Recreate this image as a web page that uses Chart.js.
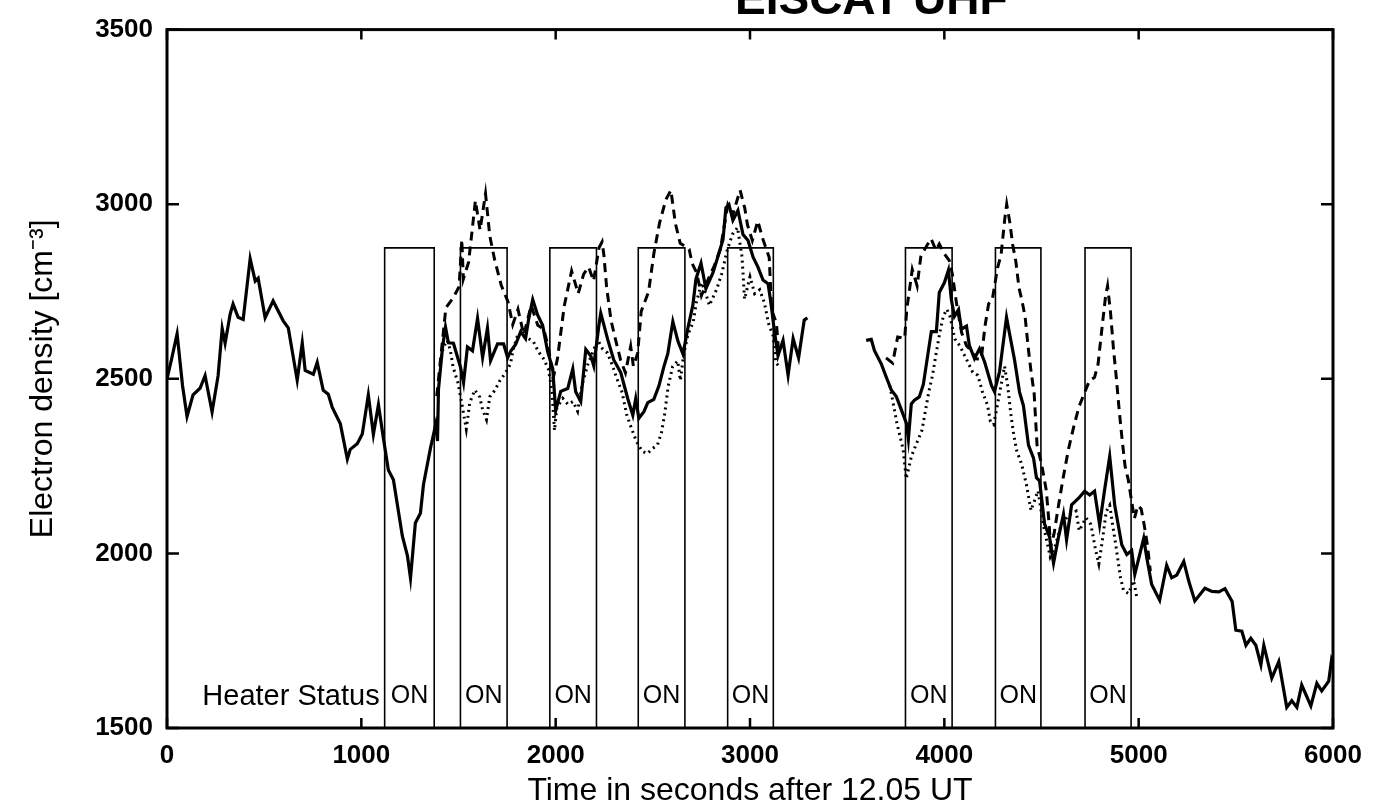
<!DOCTYPE html>
<html>
<head>
<meta charset="utf-8">
<script src="https://cdn.jsdelivr.net/npm/chart.js@4.4.1/dist/chart.umd.min.js"></script>
<style>
  html, body { margin: 0; padding: 0; background: #fff; }
  #wrap { width: 1376px; height: 811px; }
</style>
</head>
<body>
<div id="wrap"><canvas id="densityChart"></canvas></div>
<script>
// [time in s after 12.05 UT, electron density cm^-3]
const solidLine = [
    [0,2500],[25,2560],[52,2629],[80,2480],[103,2392],[134,2454],[170,2473],[196,2509],[232,2405],[263,2509],
    [284,2644],[299,2602],[325,2685],[340,2714],[366,2676],[392,2670],[428,2844],[454,2780],[469,2788],[505,2675],
    [546,2723],[598,2666],[624,2646],[670,2496],[696,2603],[711,2524],[753,2513],[773,2547],[804,2467],[830,2456],
    [850,2419],[892,2371],[928,2270],[943,2298],[979,2314],[1005,2342],[1036,2454],[1062,2341],[1088,2426],[1113,2332],
    [1139,2239],[1165,2211],[1211,2050],[1237,1994],[1253,1929],[1278,2087],[1304,2115],[1320,2198],[1356,2302],[1382,2367],
    [1392,2322],[1397,2470],[1418,2591],[1433,2648],[1448,2603],[1474,2602],[1510,2534],[1526,2489],[1546,2591],[1572,2580],
    [1598,2673],[1624,2561],[1649,2645],[1665,2552],[1701,2600],[1732,2600],[1753,2560],[1768,2579],[1794,2598],[1820,2635],
    [1845,2615],[1861,2671],[1882,2727],[1907,2683],[1933,2653],[1959,2577],[1985,2529],[2000,2408],[2026,2464],[2062,2472],
    [2088,2528],[2103,2463],[2129,2435],[2155,2584],[2181,2565],[2196,2537],[2222,2651],[2232,2688],[2268,2612],[2299,2554],
    [2335,2518],[2371,2443],[2397,2396],[2412,2443],[2428,2387],[2454,2406],[2474,2432],[2505,2441],[2531,2479],[2557,2535],
    [2577,2572],[2603,2664],[2629,2608],[2655,2571],[2681,2647],[2706,2711],[2722,2786],[2748,2831],[2773,2758],[2809,2803],
    [2835,2850],[2861,2898],[2876,2990],[2892,2999],[2912,2954],[2938,2982],[2964,2913],[2990,2896],[3016,2848],[3041,2820],
    [3067,2783],[3093,2772],[3108,2716],[3124,2643],[3144,2566],[3170,2610],[3196,2510],[3222,2615],[3250,2560],[3279,2668],
    [3295,2675],
    [3440,null],
    [3598,2610],[3624,2613],[3640,2581],[3676,2542],[3701,2505],[3727,2468],[3753,2449],[3779,2411],[3805,2372],[3815,2327],
    [3830,2428],[3846,2439],[3871,2448],[3892,2484],[3918,2580],[3933,2635],[3959,2635],[3974,2747],[4000,2775],[4021,2811],
    [4036,2727],[4052,2679],[4073,2698],[4088,2642],[4114,2651],[4129,2595],[4155,2558],[4181,2586],[4207,2549],[4243,2480],
    [4258,2463],[4284,2520],[4320,2676],[4335,2631],[4361,2555],[4387,2462],[4407,2423],[4433,2310],[4459,2273],[4474,2217],
    [4490,2208],[4516,2084],[4541,2048],[4562,1972],[4588,2048],[4613,2112],[4629,2039],[4655,2139],[4691,2158],[4722,2178],
    [4748,2167],[4773,2178],[4799,2082],[4825,2183],[4851,2278],[4877,2137],[4913,2025],[4939,1997],[4964,2008],[4980,1940],
    [5026,2043],[5042,1987],[5067,1911],[5108,1866],[5144,1966],[5170,1930],[5196,1938],[5232,1977],[5258,1920],[5289,1864],
    [5341,1900],[5377,1891],[5413,1890],[5444,1899],[5481,1862],[5500,1780],[5531,1777],[5552,1737],[5577,1757],[5603,1737],
    [5629,1681],[5644,1737],[5685,1643],[5721,1690],[5762,1559],[5788,1578],[5814,1559],[5839,1623],[5886,1563],[5917,1628],
    [5942,1606],[5978,1634],[5993,1697],[6000,1689]
];

const dashedLine = [
    [1388,2450],[1435,2703],[1472,2731],[1503,2764],[1517,2899],[1525,2786],[1552,2834],[1587,3010],[1611,2926],[1639,3030],
    [1661,2909],[1686,2841],[1720,2768],[1755,2720],[1779,2655],[1806,2699],[1836,2626],[1874,2710],[1908,2653],[1939,2642],
    [1964,2586],[1987,2501],[2009,2557],[2044,2708],[2082,2809],[2116,2744],[2144,2800],[2170,2820],[2195,2780],[2223,2875],
    [2239,2892],[2248,2855],[2262,2763],[2285,2667],[2309,2610],[2334,2554],[2359,2517],[2386,2593],[2400,2536],[2422,2573],
    [2440,2693],[2478,2749],[2506,2861],[2534,2945],[2567,3013],[2593,3040],[2616,2945],[2641,2888],[2687,2871],[2702,2831],
    [2726,2803],[2750,2738],[2777,2775],[2815,2822],[2847,2870],[2886,2998],[2911,2970],[2949,3040],[2973,2989],[2987,2941],
    [3012,2896],[3040,2952],[3064,2904],[3099,2847],[3111,2698],[3136,2659],[3149,2566],
    [3400,null],
    [3700,2560],[3734,2545],[3760,2620],[3796,2616],[3807,2700],[3835,2813],[3860,2766],[3879,2850],[3905,2877],[3932,2901],
    [3957,2868],[3974,2886],[4000,2858],[4025,2839],[4041,2801],[4065,2707],[4089,2632],[4114,2595],[4139,2580],[4164,2557],
    [4190,2556],[4209,2650],[4228,2715],[4246,2724],[4274,2818],[4292,2855],[4311,2958],[4321,3000],[4337,2948],[4352,2883],
    [4368,2836],[4384,2761],[4400,2723],[4416,2676],[4431,2592],[4447,2517],[4462,2460],[4477,2310],[4501,2254],[4525,2179],
    [4539,2085],[4547,2019],[4565,2057],[4583,2122],[4611,2215],[4639,2299],[4667,2365],[4693,2420],[4720,2458],[4747,2495],
    [4773,2504],[4791,2542],[4811,2644],[4830,2738],[4840,2766],[4855,2691],[4870,2588],[4885,2503],[4900,2409],[4915,2325],
    [4930,2250],[4946,2212],[4962,2156],[4978,2100],[4996,2137],[5013,2127],[5029,2080],[5045,2024],[5060,1949]
];

const dottedLine = [
    [1406,2546],[1422,2591],[1443,2610],[1458,2582],[1472,2534],[1497,2489],[1516,2432],[1531,2385],[1540,2356],[1558,2432],
    [1584,2468],[1609,2448],[1624,2412],[1644,2383],[1661,2448],[1687,2467],[1713,2495],[1740,2515],[1767,2542],[1783,2587],
    [1805,2626],[1831,2634],[1861,2615],[1886,2606],[1911,2578],[1937,2558],[1962,2529],[1981,2464],[1994,2352],[2006,2417],
    [2037,2444],[2063,2427],[2089,2435],[2113,2407],[2136,2483],[2164,2539],[2190,2575],[2216,2611],[2242,2585],[2267,2574],
    [2292,2538],[2317,2498],[2342,2461],[2366,2396],[2391,2357],[2416,2320],[2446,2292],[2472,2286],[2498,2300],[2524,2311],
    [2545,2347],[2562,2403],[2579,2479],[2602,2535],[2628,2551],[2642,2495],[2659,2571],[2681,2627],[2708,2663],[2724,2719],
    [2751,2775],[2776,2738],[2791,2710],[2829,2757],[2855,2802],[2883,2869],[2910,2914],[2936,2933],[2959,2849],[2972,2728],
    [3000,2792],[3024,2744],[3050,2755],[3075,2716],[3095,2659],[3119,2623],[3133,2546],[3159,2530],
    [3400,null],
    [3720,2480],[3756,2373],[3788,2298],[3804,2214],[3831,2279],[3858,2316],[3885,2353],[3903,2409],[3921,2465],[3940,2512],
    [3959,2577],[3977,2633],[3995,2680],[4013,2699],[4029,2679],[4054,2614],[4079,2595],[4113,2557],[4146,2519],[4172,2510],
    [4196,2463],[4222,2425],[4237,2378],[4254,2369],[4273,2424],[4291,2480],[4310,2536],[4326,2480],[4341,2405],[4357,2339],
    [4373,2293],[4398,2255],[4422,2198],[4446,2123],[4464,2151],[4482,2179],[4510,2080],[4545,1990],[4570,2020],[4600,2080],
    [4640,2110],[4678,2121],[4694,2065],[4729,2102],[4754,2083],[4779,2008],[4795,1970],[4813,2036],[4833,2120],[4851,2138],
    [4866,2082],[4882,2025],[4906,1932],[4922,1894],[4948,1885],[4974,1922],[4990,1875]
];

// heater ON intervals [start, end] in seconds
const heaterOn = [
    [1120,1375],[1510,1750],[1970,2210],[2425,2665],[2885,3120],
    [3800,4040],[4263,4497],[4724,4961]
];
const heaterHigh = 2875;
const heaterLow = 1500;

const xTicks = [0, 1000, 2000, 3000, 4000, 5000, 6000];
const yTicks = [1500, 2000, 2500, 3000, 3500];

const FONT = "'Liberation Sans', Arial, Helvetica, sans-serif";

function toPoints(pairs) {
    return pairs.map(p => ({ x: p[0], y: p[1] }));
}

function heaterTrace() {
    const pts = [{ x: 0, y: heaterLow }];
    heaterOn.forEach(([a, b]) => {
        pts.push({ x: a, y: heaterLow }, { x: a, y: heaterHigh }, { x: b, y: heaterHigh }, { x: b, y: heaterLow });
    });
    pts.push({ x: 6000, y: heaterLow });
    return pts;
}

// frame, inward ticks, heater labels and the cut-off page title
const framePlugin = {
    id: 'framePlugin',
    afterDatasetsDraw(chart) {
        const { ctx, chartArea: a, scales: { x, y } } = chart;
        ctx.save();
        ctx.strokeStyle = '#000';
        ctx.lineWidth = 3;
        ctx.strokeRect(a.left, a.top, a.right - a.left, a.bottom - a.top);

        ctx.lineWidth = 2.5;
        ctx.beginPath();
        xTicks.forEach(v => {
            const px = x.getPixelForValue(v);
            ctx.moveTo(px, a.bottom); ctx.lineTo(px, a.bottom - 10);
            ctx.moveTo(px, a.top); ctx.lineTo(px, a.top + 10);
        });
        yTicks.forEach(v => {
            const py = y.getPixelForValue(v);
            ctx.moveTo(a.left, py); ctx.lineTo(a.left + 12, py);
            ctx.moveTo(a.right, py); ctx.lineTo(a.right - 12, py);
        });
        ctx.stroke();

        ctx.fillStyle = '#000';
        ctx.textBaseline = 'middle';
        const ty = y.getPixelForValue(1590);
        ctx.font = '29px ' + FONT;
        ctx.textAlign = 'right';
        ctx.fillText('Heater Status', x.getPixelForValue(heaterOn[0][0]) - 5, ty);
        ctx.font = '25px ' + FONT;
        ctx.textAlign = 'center';
        heaterOn.forEach(([s, e]) => {
            ctx.fillText('ON', x.getPixelForValue((s + e) / 2), ty);
        });

        // title at the top of the page, mostly cut off by the scan
        ctx.font = 'bold 46px ' + FONT;
        ctx.textAlign = 'left';
        ctx.textBaseline = 'alphabetic';
        ctx.fillText('EISCAT UHF', 735, 14);
        ctx.restore();
    }
};

const ctx = document.getElementById('densityChart').getContext('2d');

new Chart(ctx, {
    type: 'line',
    data: {
        datasets: [
            {
                label: 'Heater',
                data: heaterTrace(),
                borderColor: '#000',
                borderWidth: 1.6,
                pointRadius: 0,
                tension: 0
            },
            {
                label: 'Solid',
                data: toPoints(solidLine),
                borderColor: '#000',
                borderWidth: 3.2,
                pointRadius: 0,
                tension: 0,
                spanGaps: false
            },
            {
                label: 'Dashed',
                data: toPoints(dashedLine),
                borderColor: '#000',
                borderWidth: 3,
                borderDash: [9, 6],
                pointRadius: 0,
                tension: 0,
                spanGaps: false
            },
            {
                label: 'Dotted',
                data: toPoints(dottedLine),
                borderColor: '#000',
                borderWidth: 3,
                borderDash: [2, 4],
                pointRadius: 0,
                tension: 0,
                spanGaps: false
            }
        ]
    },
    options: {
        responsive: true,
        maintainAspectRatio: false,
        animation: false,
        layout: { padding: { left: 22, right: 43, top: 19, bottom: 0 } },
        plugins: {
            legend: { display: false },
            tooltip: { enabled: false }
        },
        scales: {
            x: {
                type: 'linear',
                min: 0,
                max: 6000,
                afterBuildTicks: s => { s.ticks = xTicks.map(v => ({ value: v })); },
                afterFit: s => { s.height = 83; },
                grid: { display: false, drawTicks: false },
                border: { display: false },
                ticks: {
                    color: '#000',
                    padding: 12,
                    maxRotation: 0,
                    font: { family: FONT, size: 26, weight: 'bold' },
                    callback: v => String(v)
                },
                title: {
                    display: true,
                    text: 'Time in seconds after 12.05 UT',
                    color: '#000',
                    font: { family: FONT, size: 32, lineHeight: 1.1 },
                    padding: { top: 0, bottom: 2 }
                }
            },
            y: {
                min: 1500,
                max: 3500,
                afterBuildTicks: s => { s.ticks = yTicks.map(v => ({ value: v })); },
                afterFit: s => { s.width = 145; },
                grid: { display: false, drawTicks: false },
                border: { display: false },
                ticks: {
                    color: '#000',
                    padding: 14,
                    font: { family: FONT, size: 26, weight: 'bold' },
                    callback: v => String(v)
                },
                title: {
                    display: true,
                    text: 'Electron density [cm\u207B\u00B3]',
                    color: '#000',
                    font: { family: FONT, size: 32, lineHeight: 1.1 },
                    padding: { top: 4, bottom: 0 }
                }
            }
        }
    },
    plugins: [framePlugin]
});
</script>
</body>
</html>
